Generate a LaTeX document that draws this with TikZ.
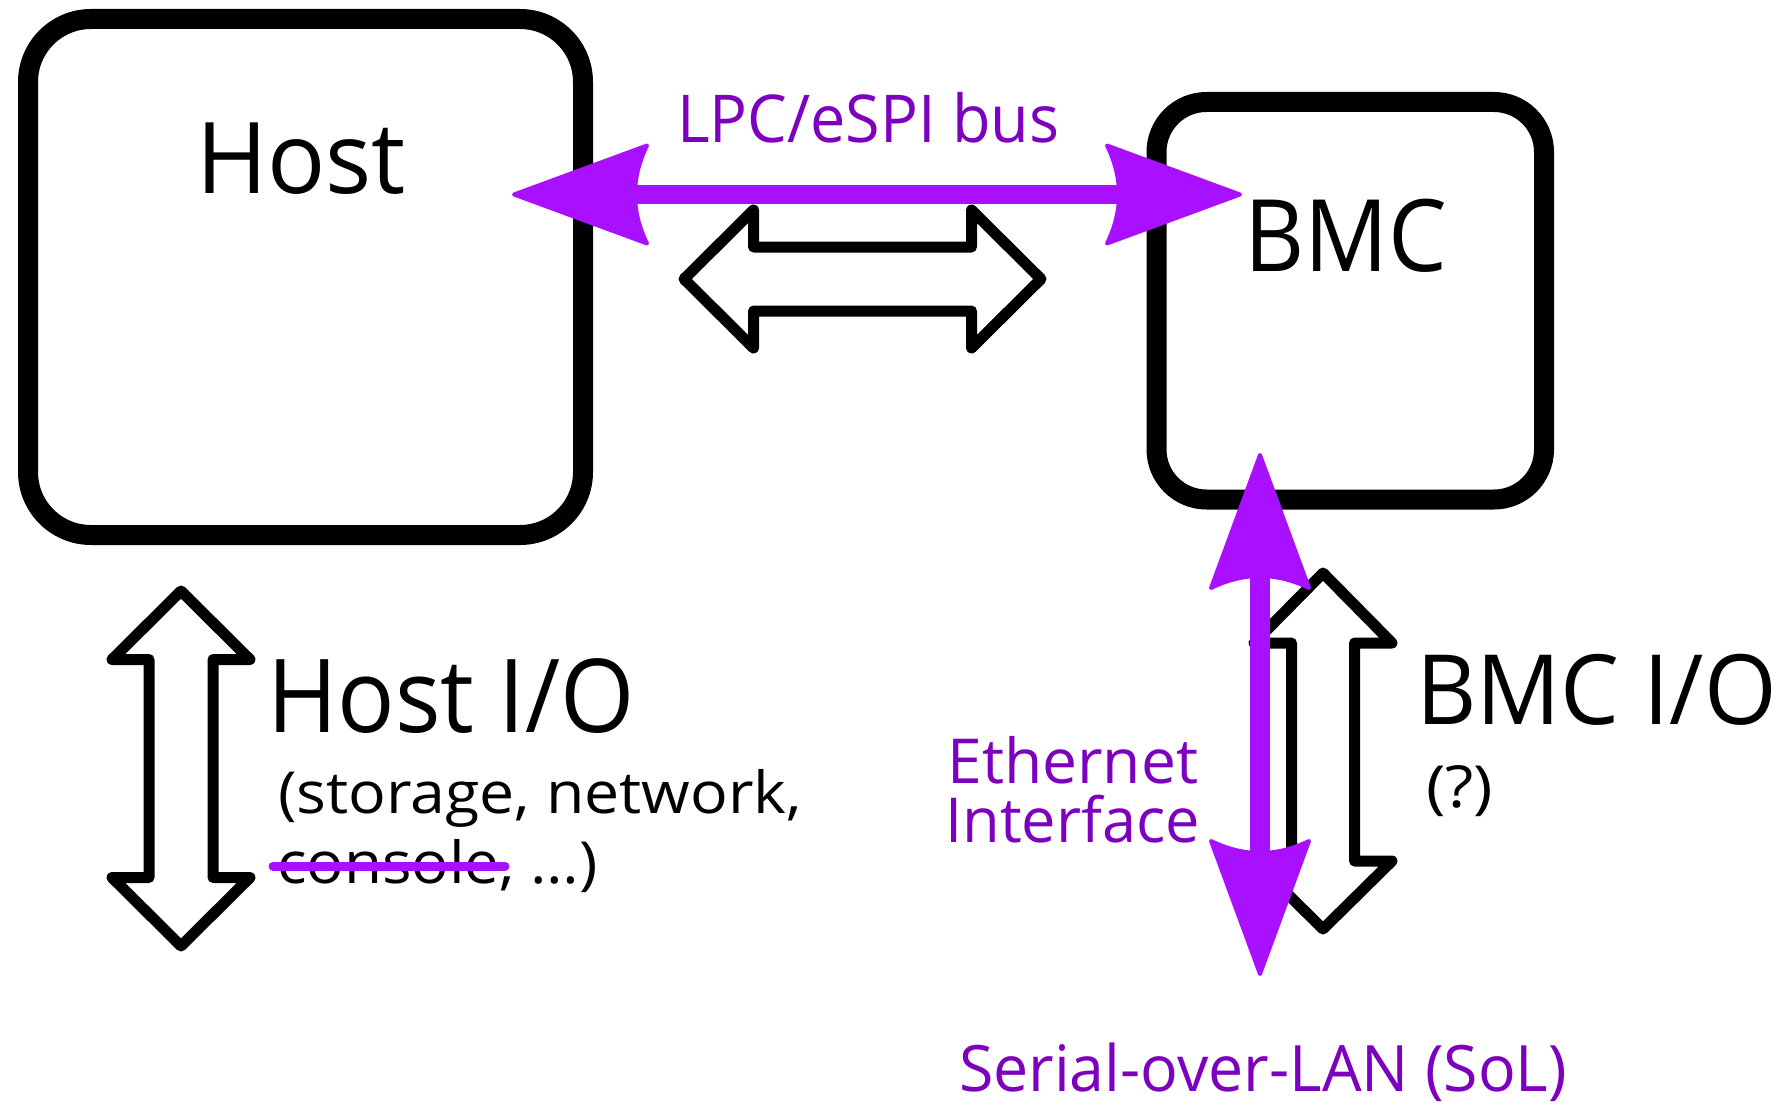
\documentclass[tikz,border=0pt]{standalone}
\usepackage{fontspec}
\setmainfont{Open Sans}
\usepackage{graphicx}
\usetikzlibrary{calc}
\definecolor{arrowpurple}{RGB}{168,16,255}
\definecolor{textpurple}{RGB}{124,0,190}
\newsavebox\fitbox
\newcommand{\fitw}[2]{\sbox\fitbox{#2}\pgfmathsetmacro\fitsx{#1/\the\wd\fitbox}\scalebox{\fitsx}[1]{\usebox\fitbox}}
\newcommand{\fsz}[1]{\fontsize{#1pt}{#1pt}\selectfont}
\tikzset{
  box/.style={draw=black, line width=20pt, fill=none, inner sep=0pt},
  hollow/.style={draw=black, line width=11pt, line join=round, fill=white},
  lbl/.style={inner sep=0pt, outer sep=0pt, anchor=base west},
  pshaft/.style={draw=arrowpurple},
  phead/.pic={\filldraw[arrowpurple, line width=4pt, line join=round]
      (-2,0) -- (-135,49) .. controls (-119,16) and (-119,-16) .. (-135,-49) -- cycle;}
}
\begin{document}
\begin{tikzpicture}[x=1pt,y=-1pt]
\useasboundingbox (0,0) rectangle (1787,1105);
% boxes
\node[box, rounded corners=63pt, minimum width=555pt, minimum height=516pt] (host) at (305.5,277) {};
\node[box, rounded corners=50pt, minimum width=387.5pt, minimum height=397.5pt] (bmc) at (1350.25,300.75) {};
% hollow double arrows
\draw[hollow] (684,279) -- (753.5,210) -- (753.5,247) -- (971.5,247) -- (971.5,210) -- (1041,279)
  -- (971.5,348) -- (971.5,311) -- (753.5,311) -- (753.5,348) -- cycle;
\draw[hollow] (181,591) -- (250,659.5) -- (213,659.5) -- (213,877.5) -- (250,877.5) -- (181,946)
  -- (112,877.5) -- (149,877.5) -- (149,659.5) -- (112,659.5) -- cycle;
\draw[hollow] (1323,573) -- (1392,643) -- (1354.5,643) -- (1354.5,861) -- (1392,861) -- (1323,929)
  -- (1254,861) -- (1291.5,861) -- (1291.5,643) -- (1254,643) -- cycle;
% texts
\node[lbl] (hostt) at (196,193) {\fsz{99}\fitw{210}{Host}};
\node[lbl] (bmct) at (1244,271) {\fsz{100}\fitw{203}{BMC}};
\node[lbl, text=textpurple] (lpct) at (677,142.5) {\fsz{66}\fitw{382.5}{LPC/eSPI bus}};
\node[lbl] (hioT) at (267,732) {\fsz{102}\fitw{368}{Host I/O}};
\node[lbl] (hio1) at (278,813) {\fsz{58}\fitw{524}{(storage, network,}};
\node[lbl] (hio2) at (277,883) {\fsz{58}\fitw{321}{console, …)}};
\node[lbl] (bioT) at (1416,724) {\fsz{97}\fitw{361}{BMC I/O}};
\node[lbl] (bio1) at (1426,807) {\fsz{58}\fitw{67}{(?)}};
\node[lbl, text=textpurple] (eth1) at (947.5,783) {\fsz{62}\fitw{250.5}{Ethernet}};
\node[lbl, text=textpurple] (eth2) at (945.5,842) {\fsz{62}\fitw{254.5}{Interface}};
\node[lbl, text=textpurple] (sol) at (959,1091) {\fsz{64}\fitw{608}{Serial-over-LAN (SoL)}};
% purple LPC arrow
\coordinate (lpcL) at (512,194.5);
\coordinate (lpcR) at (1242,194.5);
\draw[pshaft, line width=19pt] ($(lpcL)+(120,0)$) -- ($(lpcR)+(-120,0)$);
\pic[rotate=180] at (lpcL) {phead};
\pic at (lpcR) {phead};
% purple Ethernet arrow
\coordinate (ethT) at (1260,453);
\coordinate (ethB) at (1260,976);
\draw[pshaft, line width=20pt] ($(ethT)+(0,120)$) -- ($(ethB)+(0,-120)$);
\pic[rotate=90] at (ethT) {phead};
\pic[rotate=-90] at (ethB) {phead};
% strike-through
\coordinate (st1) at (273,866);
\coordinate (st2) at (505,866);
\draw[arrowpurple, line width=9pt, line cap=round] (st1) -- (st2);
\end{tikzpicture}
\end{document}
